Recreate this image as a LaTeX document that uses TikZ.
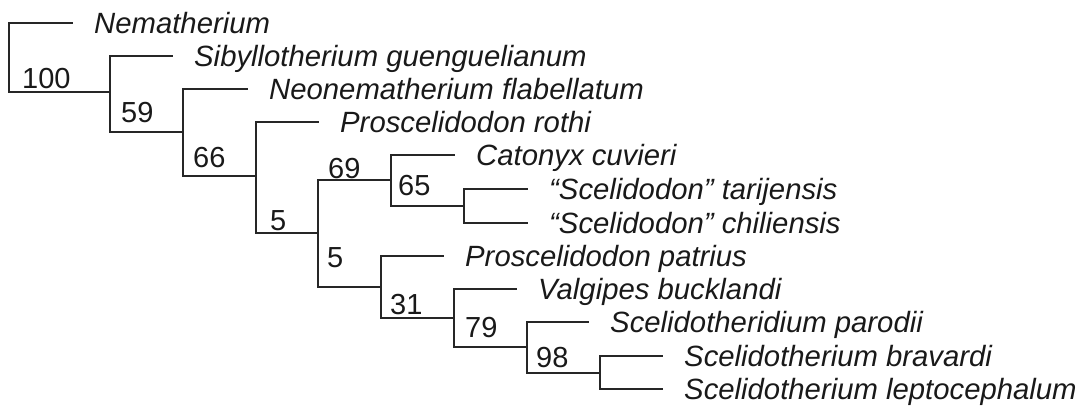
\documentclass[tikz,border=0pt]{standalone}
\usepackage{fontspec}
\setmainfont{Liberation Sans}
\usetikzlibrary{positioning}

\begin{document}
\begin{tikzpicture}[x=1pt,y=-1pt,
        branch/.style={line width=2pt,color=black!85},
        taxon/.style={anchor=base west,inner sep=0pt,xshift=21pt,yshift=-10.5pt,
            text=black!90,font=\fontsize{29.3}{31}\selectfont\itshape},
        support/.style={anchor=base west,inner sep=0pt,
            text=black!90,font=\fontsize{29}{31}\selectfont}]
        \useasboundingbox (0,0) rectangle (1081,407);
        % branch tips
        \coordinate (t1)  at (73,22.5);
        \coordinate (t2)  at (173,55.5);
        \coordinate (t3)  at (248,89);
        \coordinate (t4)  at (319,122);
        \coordinate (t5)  at (455,155);
        \coordinate (t6)  at (528,188.5);
        \coordinate (t7)  at (528,223);
        \coordinate (t8)  at (444,255.5);
        \coordinate (t9)  at (517,289);
        \coordinate (t10) at (589,322);
        \coordinate (t11) at (663,356);
        \coordinate (t12) at (663,389);
        % inner nodes
        \coordinate (root) at (9,57);
        \coordinate (c59)  at (110,92);
        \coordinate (c66)  at (183,132);
        \coordinate (c5a)  at (256,176);
        \coordinate (c5b)  at (318,233);
        \coordinate (c69)  at (391,180);
        \coordinate (c65)  at (464,206);
        \coordinate (c31)  at (381,287);
        \coordinate (c79)  at (454,318);
        \coordinate (c98)  at (527,347);
        \coordinate (cSc)  at (600,373);
        \node[taxon] (nema) at (t1)  {Nematherium};
        \node[taxon] (sibg) at (t2)  {Sibyllotherium guenguelianum};
        \node[taxon] (neof) at (t3)  {Neonematherium flabellatum};
        \node[taxon] (pror) at (t4)  {Proscelidodon rothi};
        \node[taxon] (catc) at (t5)  {Catonyx cuvieri};
        \node[taxon] (scet) at (t6)  {“Scelidodon” tarijensis};
        \node[taxon] (scec) at (t7)  {“Scelidodon” chiliensis};
        \node[taxon] (prop) at (t8)  {Proscelidodon patrius};
        \node[taxon] (valb) at (t9)  {Valgipes bucklandi};
        \node[taxon] (scdp) at (t10) {Scelidotheridium parodii};
        \node[taxon] (sctb) at (t11) {Scelidotherium bravardi};
        \node[taxon] (sctl) at (t12) {Scelidotherium leptocephalum};
        \draw[branch] (root) |- (t1)  (root) |- (c59);
        \draw[branch] (c59)  |- (t2)  (c59)  |- (c66);
        \draw[branch] (c66)  |- (t3)  (c66)  |- (c5a);
        \draw[branch] (c5a)  |- (t4)  (c5a)  |- (c5b);
        \draw[branch] (c5b)  |- (c69) (c5b)  |- (c31);
        \draw[branch] (c69)  |- (t5)  (c69)  |- (c65);
        \draw[branch] (c65)  |- (t6)  (c65)  |- (t7);
        \draw[branch] (c31)  |- (t8)  (c31)  |- (c79);
        \draw[branch] (c79)  |- (t9)  (c79)  |- (c98);
        \draw[branch] (c98)  |- (t10) (c98)  |- (cSc);
        \draw[branch] (cSc)  |- (t11) (cSc)  |- (t12);
        % support values
        \node[support] (s100) at (22,88)   {100};
        \node[support] (s59)  at (121,122) {59};
        \node[support] (s66)  at (193,167) {66};
        \node[support] (s5a)  at (270,230) {5};
        \node[support] (s69)  at (328,178) {69};
        \node[support] (s65)  at (398,195) {65};
        \node[support] (s5b)  at (327,267) {5};
        \node[support] (s31)  at (390,314) {31};
        \node[support] (s79)  at (465,337) {79};
        \node[support] (s98)  at (536,367) {98};
    \end{tikzpicture}
\end{document}
